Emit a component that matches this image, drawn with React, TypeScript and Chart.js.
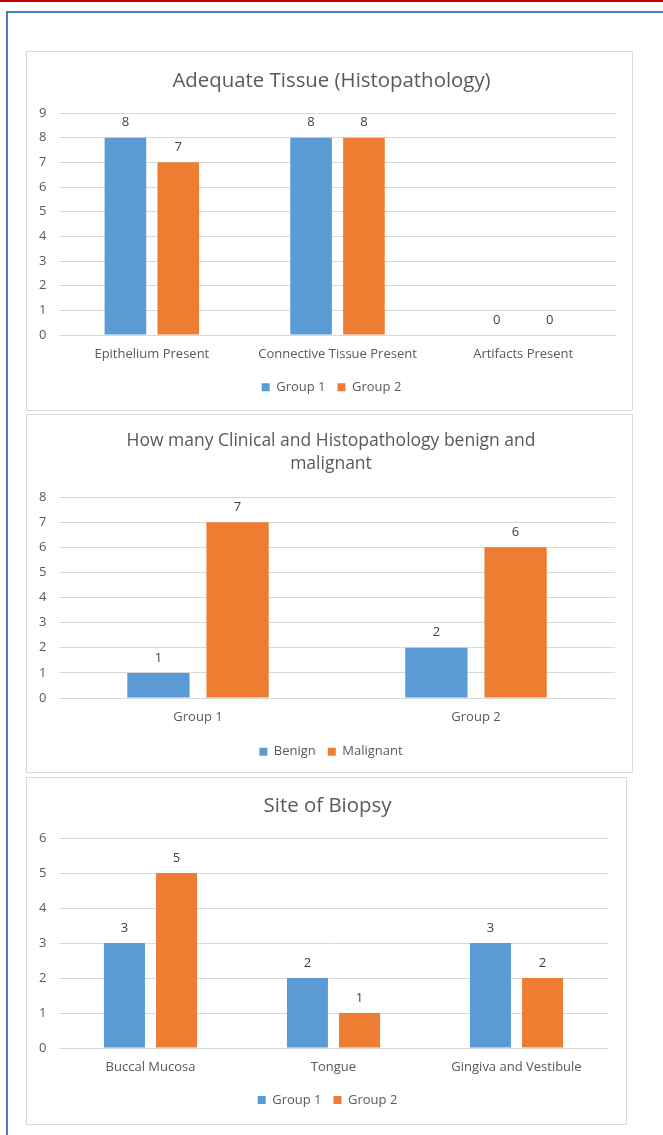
import React, { useEffect, useRef } from "react";
import { Chart, registerables } from "chart.js";

Chart.register(...registerables);

const BLUE = "#5b9bd5";
const ORANGE = "#ed7d31";
const TEXT = "#595959";
const FONT = "'Open Sans', Lato, sans-serif";

// Chart 1: Adequate Tissue (Histopathology)
const tissueTitle = "Adequate Tissue (Histopathology)";
const tissueCategories = ["Epithelium Present", "Connective Tissue Present", "Artifacts Present"];
const tissueGroup1 = [8, 8, 0];
const tissueGroup2 = [7, 8, 0];
const tissueMax = 9;

// Chart 2: benign vs malignant
const diagnosisTitle = ["How many Clinical and Histopathology benign and", "malignant"];
const diagnosisCategories = ["Group 1", "Group 2"];
const benignValues = [1, 2];
const malignantValues = [7, 6];
const diagnosisMax = 8;

// Chart 3: Site of Biopsy
const siteTitle = "Site of Biopsy";
const siteCategories = ["Buccal Mucosa", "Tongue", "Gingiva and Vestibule"];
const siteGroup1 = [3, 2, 3];
const siteGroup2 = [5, 1, 2];
const siteMax = 6;

const valueLabelPlugin = {
  id: "valueLabels",
  afterDatasetsDraw(chart: any) {
    const ctx = chart.ctx;
    ctx.save();
    ctx.font = `13px ${FONT}`;
    ctx.fillStyle = "#404040";
    ctx.textAlign = "center";
    ctx.textBaseline = "middle";
    chart.data.datasets.forEach((ds: any, i: number) => {
      const meta = chart.getDatasetMeta(i);
      meta.data.forEach((bar: any, j: number) => {
        ctx.fillText(String(ds.data[j]), bar.x, bar.y - 15);
      });
    });
    ctx.restore();
  },
};

type PanelProps = {
  left: number;
  top: number;
  width: number;
  height: number;
  title: string | string[];
  titleSize: number;
  titlePadTop: number;
  titlePadBottom: number;
  labels: string[];
  series: { name: string; data: number[]; color: string }[];
  yMax: number;
  padRight: number;
  xHeight: number;
  padBottom: number;
};

function ChartPanel(p: PanelProps) {
  const ref = useRef<HTMLCanvasElement | null>(null);
  const cw = p.width - 2;
  const ch = p.height - 2;
  useEffect(() => {
    if (!ref.current) return;
    const chart = new Chart(ref.current, {
      type: "bar",
      data: {
        labels: p.labels,
        datasets: p.series.map((s) => ({
          label: s.name,
          data: s.data,
          backgroundColor: s.color,
          borderWidth: 0,
          categoryPercentage: 0.5695,
          barPercentage: 0.787,
        })),
      },
      options: {
        responsive: false,
        animation: false,
        devicePixelRatio: 1,
        layout: { padding: { left: 20, right: p.padRight, top: 0, bottom: p.padBottom } },
        plugins: {
          title: {
            display: true,
            text: p.title,
            color: TEXT,
            font: { family: FONT, size: p.titleSize, weight: "normal", lineHeight: "23px" },
            padding: { top: p.titlePadTop, bottom: p.titlePadBottom },
          },
          legend: {
            display: true,
            position: "bottom",
            labels: {
              color: TEXT,
              font: { family: FONT, size: 13 },
              boxWidth: 8,
              boxHeight: 8,
              padding: 12,
            },
          },
          tooltip: { enabled: false },
        },
        scales: {
          x: {
            grid: { display: false, drawTicks: false },
            border: { display: false },
            ticks: { color: TEXT, font: { family: FONT, size: 13 }, padding: 11.5, maxRotation: 0 },
            afterFit: (axis: any) => {
              axis.height = p.xHeight;
            },
          },
          y: {
            min: 0,
            max: p.yMax,
            grid: { color: "#d9d9d9", lineWidth: 1, drawTicks: false },
            border: { display: false },
            ticks: {
              stepSize: 1,
              color: TEXT,
              font: { family: FONT, size: 13 },
              mirror: true,
              crossAlign: "near",
              padding: -20,
            },
            afterFit: (axis: any) => {
              axis.width = 12;
            },
          },
        },
      },
      plugins: [valueLabelPlugin],
    } as any);
    return () => chart.destroy();
  }, []);
  return (
    <div
      style={{
        position: "absolute",
        left: p.left,
        top: p.top,
        width: p.width,
        height: p.height,
        boxSizing: "border-box",
        border: "1px solid #d9d9d9",
        background: "#fff",
      }}
    >
      <canvas ref={ref} width={cw} height={ch} style={{ display: "block", width: cw, height: ch }} />
    </div>
  );
}

export default function App() {
  return (
    <div
      style={{
        position: "absolute",
        left: 0,
        top: 0,
        width: 663,
        height: 1135,
        overflow: "hidden",
        background: "#fff",
      }}
    >
      <div style={{ position: "absolute", left: 0, top: 0, width: 663, height: 2, background: "#c00000" }} />
      <div
        style={{
          position: "absolute",
          left: 6,
          top: 11,
          width: 800,
          height: 1300,
          borderLeft: "2px solid #4a7ebb",
          borderTop: "2px solid #4a7ebb",
        }}
      />
      <ChartPanel
        left={26}
        top={51}
        width={607}
        height={360}
        title={tissueTitle}
        titleSize={20.4}
        titlePadTop={18}
        titlePadBottom={20}
        labels={tissueCategories}
        series={[
          { name: "Group 1", data: tissueGroup1, color: BLUE },
          { name: "Group 2", data: tissueGroup2, color: ORANGE },
        ]}
        yMax={tissueMax}
        padRight={16}
        xHeight={33.8}
        padBottom={6.2}
      />
      <ChartPanel
        left={26}
        top={414}
        width={607}
        height={359}
        title={diagnosisTitle}
        titleSize={17.5}
        titlePadTop={14.5}
        titlePadBottom={21.5}
        labels={diagnosisCategories}
        series={[
          { name: "Benign", data: benignValues, color: BLUE },
          { name: "Malignant", data: malignantValues, color: ORANGE },
        ]}
        yMax={diagnosisMax}
        padRight={17}
        xHeight={35.2}
        padBottom={3.8}
      />
      <ChartPanel
        left={26}
        top={777}
        width={601}
        height={348}
        title={siteTitle}
        titleSize={20.4}
        titlePadTop={16.5}
        titlePadBottom={20.5}
        labels={siteCategories}
        series={[
          { name: "Group 1", data: siteGroup1, color: BLUE },
          { name: "Group 2", data: siteGroup2, color: ORANGE },
        ]}
        yMax={siteMax}
        padRight={18}
        xHeight={33.5}
        padBottom={7.5}
      />
    </div>
  );
}
